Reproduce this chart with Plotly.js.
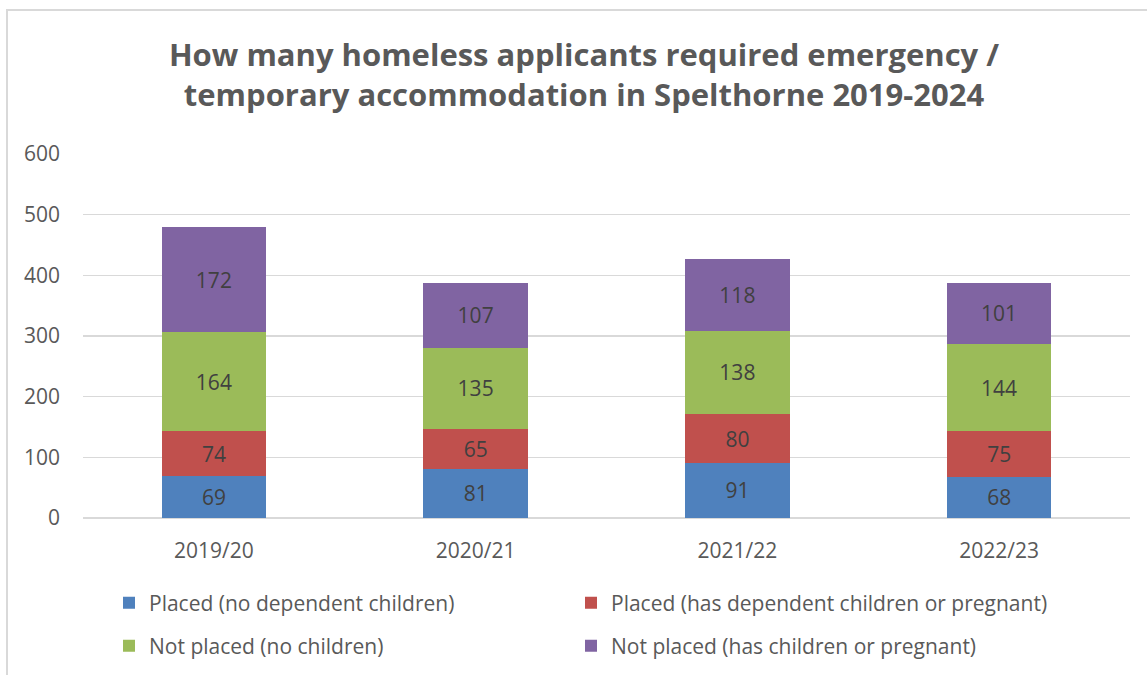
<!DOCTYPE html>
<html>
<head>
<meta charset="utf-8">
<script src="https://cdn.plot.ly/plotly-3.0.1.min.js"></script>
<style>
  html, body { margin: 0; padding: 0; background: #ffffff; overflow: hidden; }
  #frame { position: absolute; left: 6px; top: 9px; width: 1200px; height: 700px; border: 2px solid #d9d9d9; box-sizing: border-box; }
  #chart { position: absolute; left: 0; top: 0; width: 1147px; height: 675px; }
</style>
</head>
<body>
<div id="frame"></div>
<div id="chart"></div>
<script>
const categories = ["2019/20", "2020/21", "2021/22", "2022/23"];
const seriesNames = [
  "Placed (no dependent children)",
  "Placed (has dependent children or pregnant)",
  "Not placed (no children)",
  "Not placed (has children or pregnant)"
];
const placedNoChildren = [69, 81, 91, 68];
const placedWithChildren = [74, 65, 80, 75];
const notPlacedNoChildren = [164, 135, 138, 144];
const notPlacedWithChildren = [172, 107, 118, 101];
const yTicks = [0, 100, 200, 300, 400, 500, 600];

const colors = ["#4F81BD", "#C0504D", "#9BBB59", "#8064A2"];
const values = [placedNoChildren, placedWithChildren, notPlacedNoChildren, notPlacedWithChildren];
const legendIds = ["legend", "legend2", "legend3", "legend4"];
const FONT = "'Open Sans', 'Noto Sans', sans-serif";

const traces = values.map((v, i) => ({
  type: "bar",
  name: seriesNames[i],
  x: categories,
  y: v,
  text: v.map(String),
  textposition: "inside",
  insidetextanchor: "middle",
  constraintext: "none",
  textfont: { family: FONT, size: 21, color: "#404040" },
  marker: { color: colors[i], line: { width: 0 } },
  legend: legendIds[i],
  hoverinfo: "x+y+name"
}));

const legendCommon = {
  orientation: "h",
  xref: "paper", yref: "paper",
  xanchor: "left", yanchor: "middle",
  font: { family: FONT, size: 21, color: "#595959" },
  bgcolor: "rgba(0,0,0,0)",
  itemwidth: 30
};
// plot area: x 83..1130 px, y 154..518 px
const col1 = (109 - 83) / 1047, col2 = (571 - 83) / 1047;
const row1 = (518 - 603) / 364, row2 = (518 - 646) / 364;

const layout = {
  width: 1147, height: 675,
  paper_bgcolor: "rgba(0,0,0,0)",
  plot_bgcolor: "rgba(0,0,0,0)",
  margin: { l: 83, r: 17, t: 154, b: 157, pad: 0, autoexpand: false },
  font: { family: FONT, color: "#595959" },
  title: {
    text: "<b>How many homeless applicants required emergency /<br>temporary accommodation in Spelthorne 2019-2024</b>",
    font: { family: FONT, size: 31, color: "#595959" },
    x: 584 / 1147, xref: "container", xanchor: "center",
    y: 1 - 66 / 675, yref: "container", yanchor: "top"
  },
  barmode: "stack",
  bargap: 0.6,
  xaxis: {
    type: "category", automargin: false,
    tickfont: { family: FONT, size: 21, color: "#595959" },
    showgrid: false, showline: false, zeroline: false,
    ticks: "", ticklabelstandoff: 18
  },
  yaxis: {
    range: [0, 600], automargin: false,
    tickvals: yTicks,
    ticktext: yTicks.map(String),
    tickfont: { family: FONT, size: 21, color: "#595959" },
    showgrid: true, gridcolor: "#d9d9d9", gridwidth: 1.5,
    zeroline: true, zerolinecolor: "#d9d9d9", zerolinewidth: 1.5,
    showline: false, ticks: "", ticklabelstandoff: 22
  },
  showlegend: true,
  legend: Object.assign({}, legendCommon, { x: col1, y: row1 }),
  legend2: Object.assign({}, legendCommon, { x: col2, y: row1 }),
  legend3: Object.assign({}, legendCommon, { x: col1, y: row2 }),
  legend4: Object.assign({}, legendCommon, { x: col2, y: row2 })
};

Plotly.newPlot("chart", traces, layout, { displayModeBar: false, staticPlot: true });
</script>
</body>
</html>
